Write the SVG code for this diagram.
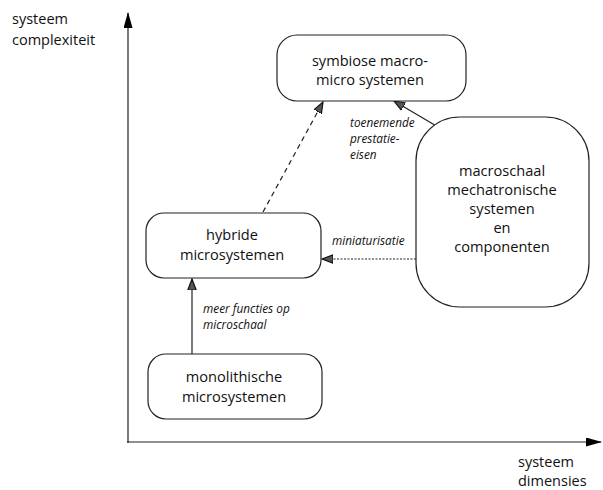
<svg xmlns="http://www.w3.org/2000/svg" width="603" height="490" viewBox="0 0 603 490">
<style>
.box{fill:#fff;stroke:#222;stroke-width:1.2}
.t{font-family:"Open Sans","Noto Sans",sans-serif;font-size:14.6px;fill:#111;text-anchor:middle}
.al{font-family:"Open Sans","Noto Sans",sans-serif;font-size:14.5px;fill:#111}
.lbl{font-family:"Open Sans","Noto Sans",sans-serif;font-size:11.8px;font-style:italic;fill:#111}
.c{stroke:#222;stroke-width:1.2;fill:none}
</style>
<defs>
<marker id="ah" viewBox="0 0 12 10" refX="11" refY="5" markerWidth="12" markerHeight="10" markerUnits="userSpaceOnUse" orient="auto">
<path d="M0,0.8 L11,5 L0,9.2 Z" fill="#555" stroke="#111" stroke-width="1.2"/>
</marker>
<marker id="axh" viewBox="0 0 16 9" refX="15" refY="4.5" markerWidth="16" markerHeight="9" markerUnits="userSpaceOnUse" orient="auto">
<path d="M0,0 L16,4.5 L0,9 Z" fill="#000"/>
</marker>
</defs>
<g id="axes">
<line class="c" x1="128" y1="443" x2="128" y2="13" stroke-width="2.5" stroke="#000" marker-end="url(#axh)"/>
<line class="c" x1="127" y1="442" x2="601" y2="442" stroke-width="2.5" stroke="#000" marker-end="url(#axh)"/>
<text class="al" x="12" y="24">systeem</text>
<text class="al" x="12" y="45">complexiteit</text>
<text class="al" x="518" y="467">systeem</text>
<text class="al" x="518" y="486">dimensies</text>
</g>
<g id="connectors">
<line class="c" x1="192" y1="354" x2="192" y2="279" marker-end="url(#ah)"/>
<line class="c" x1="416" y1="259" x2="322" y2="259" stroke-dasharray="2 1.5" marker-end="url(#ah)"/>
<line class="c" x1="263" y1="212" x2="323" y2="102" stroke-dasharray="5 4" marker-end="url(#ah)"/>
<line class="c" x1="438" y1="127" x2="394" y2="101" marker-end="url(#ah)"/>
<text class="lbl" x="203" y="313">meer functies op</text>
<text class="lbl" x="203" y="329">microschaal</text>
<text class="lbl" x="332" y="245">miniaturisatie</text>
<text class="lbl" x="350" y="127">toenemende</text>
<text class="lbl" x="350" y="143">prestatie-</text>
<text class="lbl" x="350" y="159">eisen</text>
</g>
<g id="symbiose">
<rect class="box" x="277" y="35" width="189" height="66" rx="20"/>
<text class="t" x="370" y="66">symbiose macro-</text>
<text class="t" x="370" y="85">micro systemen</text>
</g>
<g id="macroschaal">
<rect class="box" x="416" y="117" width="173" height="190" rx="44"/>
<text class="t" x="502" y="176">macroschaal</text>
<text class="t" x="502" y="195">mechatronische</text>
<text class="t" x="502" y="214">systemen</text>
<text class="t" x="502" y="233">en</text>
<text class="t" x="502" y="252">componenten</text>
</g>
<g id="hybride">
<rect class="box" x="146" y="213" width="175" height="65" rx="18"/>
<text class="t" x="232" y="240">hybride</text>
<text class="t" x="232" y="260">microsystemen</text>
</g>
<g id="monolithisch">
<rect class="box" x="148" y="354" width="174" height="65" rx="18"/>
<text class="t" x="234" y="382">monolithische</text>
<text class="t" x="234" y="402">microsystemen</text>
</g>
</svg>
